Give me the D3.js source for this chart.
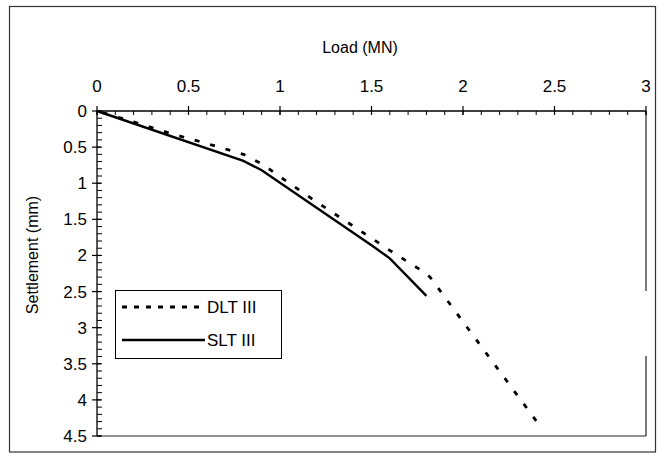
<!DOCTYPE html>
<html><head><meta charset="utf-8">
<script src="https://cdn.jsdelivr.net/npm/d3@7"></script>
<style>body{margin:0;background:#fff}svg{display:block}text{font-family:"Liberation Sans",Arial,sans-serif;fill:#000}</style>
</head><body><svg id="c" width="661" height="455"></svg>
<script>
const xTicks = [0, 0.5, 1, 1.5, 2, 2.5, 3];
const yTicks = [0, 0.5, 1, 1.5, 2, 2.5, 3, 3.5, 4, 4.5];
const seriesNames = ["DLT III", "SLT III"];
const dltLoad = [0, 0.2, 0.4, 0.6, 0.8, 0.9, 1.0, 1.2, 1.5, 1.6, 1.78, 1.82, 2.4];
const dltSettle = [0, 0.15, 0.31, 0.45, 0.6, 0.73, 0.91, 1.26, 1.76, 1.93, 2.22, 2.3, 4.29];
const sltLoad = [0, 0.8, 0.9, 1.5, 1.6, 1.8];
const sltSettle = [0, 0.69, 0.82, 1.86, 2.04, 2.56];

const svg = d3.select("#c");
const L = 97, R = 646, T = 111, B = 436;
const x = d3.scaleLinear().domain([0, 3]).range([L, R]);
const y = d3.scaleLinear().domain([0, 4.5]).range([T, B]);

// outer frame
svg.append("rect").attr("x", 9.5).attr("y", 6.5).attr("width", 646).attr("height", 445.5)
  .attr("fill", "none").attr("stroke", "#333").attr("stroke-width", 1.2);

// plot border (right & bottom)
const g = svg.append("g");
g.append("line").attr("x1", L).attr("x2", R).attr("y1", B).attr("y2", B).attr("stroke", "#222").attr("stroke-width", 1.2);
g.append("line").attr("x1", R).attr("x2", R).attr("y1", T).attr("y2", 291).attr("stroke", "#222").attr("stroke-width", 1.2);
g.append("line").attr("x1", R).attr("x2", R).attr("y1", 356).attr("y2", B).attr("stroke", "#222").attr("stroke-width", 1.2);

// top axis
const xMinor = d3.range(0, 3.0001, 0.1);
const xa = svg.append("g").attr("transform", `translate(0,${T})`);
xa.append("line").attr("x1", L).attr("x2", R).attr("stroke", "#000").attr("stroke-width", 1.3);
xa.selectAll(".mn").data(xMinor).join("line").attr("x1", d => x(d)).attr("x2", d => x(d))
  .attr("y1", 0).attr("y2", 4).attr("stroke", "#000");
xa.selectAll(".mj").data(xTicks).join("line").attr("x1", d => x(d)).attr("x2", d => x(d))
  .attr("y1", -5).attr("y2", 4).attr("stroke", "#000").attr("stroke-width", 1.2);
xa.selectAll("text").data(xTicks).join("text").attr("x", d => x(d)).attr("y", -19)
  .attr("text-anchor", "middle").attr("font-size", 17).text(d => d3.format("")(d));
svg.append("text").attr("x", 360).attr("y", 53).attr("text-anchor", "middle").attr("font-size", 16).text("Load (MN)");

// left axis
const yMinor = d3.range(0, 4.5001, 0.1);
const ya = svg.append("g").attr("transform", `translate(${L},0)`);
ya.append("line").attr("y1", T).attr("y2", B).attr("stroke", "#000").attr("stroke-width", 1.3);
ya.selectAll(".mn").data(yMinor).join("line").attr("y1", d => y(d)).attr("y2", d => y(d))
  .attr("x1", 0).attr("x2", 5).attr("stroke", "#000");
ya.selectAll(".mj").data(yTicks).join("line").attr("y1", d => y(d)).attr("y2", d => y(d))
  .attr("x1", -5).attr("x2", 4).attr("stroke", "#000").attr("stroke-width", 1.2);
ya.selectAll("text").data(yTicks).join("text").attr("x", -10).attr("y", d => y(d)).attr("dy", "0.35em")
  .attr("text-anchor", "end").attr("font-size", 17).text(d => d3.format("")(d));
svg.append("text").attr("transform", "translate(38,255) rotate(-90)").attr("text-anchor", "middle")
  .attr("font-size", 16).text("Settlement (mm)");

// series
const line = d3.line().x(d => x(d[0])).y(d => y(d[1]));
const dlt = dltLoad.map((v, i) => [v, dltSettle[i]]);
const slt = sltLoad.map((v, i) => [v, sltSettle[i]]);
svg.append("path").attr("d", line(slt)).attr("fill", "none").attr("stroke", "#000").attr("stroke-width", 2.4);
const dp = svg.append("path").attr("d", line(dlt)).attr("fill", "none").attr("stroke", "#000").attr("stroke-width", 2.8)
  .attr("stroke-dasharray", "5,11");
const len = dp.node().getTotalLength();
dp.attr("stroke-dashoffset", ((-(len - 5)) % 16 + 16) % 16);

// legend
const lg = svg.append("g");
lg.append("rect").attr("x", 115.5).attr("y", 290.5).attr("width", 166).attr("height", 68)
  .attr("fill", "#fff").attr("stroke", "#000").attr("stroke-width", 1);
lg.append("line").attr("x1", 122).attr("x2", 206).attr("y1", 307).attr("y2", 307)
  .attr("stroke", "#000").attr("stroke-width", 2.8).attr("stroke-dasharray", "5,7");
lg.append("line").attr("x1", 122).attr("x2", 205).attr("y1", 340).attr("y2", 340)
  .attr("stroke", "#000").attr("stroke-width", 2.4);
lg.append("text").attr("x", 207).attr("y", 307).attr("dy", "0.35em").attr("font-size", 17).text(seriesNames[0]);
lg.append("text").attr("x", 207).attr("y", 340).attr("dy", "0.35em").attr("font-size", 17).text(seriesNames[1]);
</script></body></html>
